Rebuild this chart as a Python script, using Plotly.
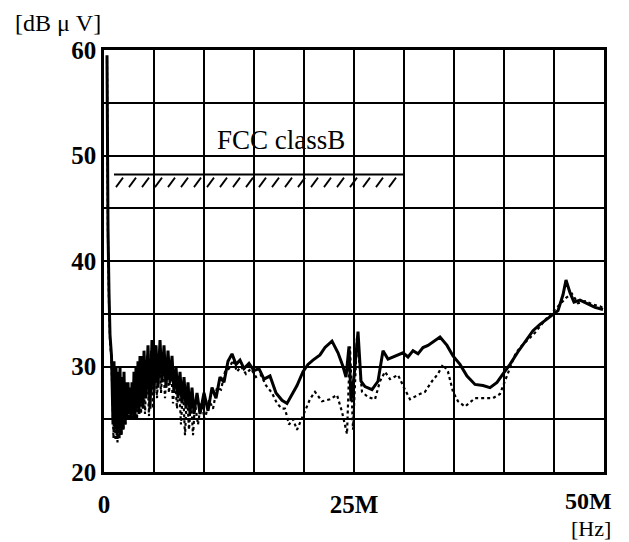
import numpy as np
import plotly.graph_objects as go

# ---- data (frequency in MHz, level in dBuV) ----
solid_freq = [0.3, 0.35, 0.4, 0.5, 0.6, 0.75,
              0.9, 1.0, 1.1, 1.2, 1.3, 1.4, 1.5, 1.6, 1.7, 1.8, 1.9, 2.0, 2.1, 2.2, 2.3, 2.4,
              2.5, 2.6, 2.7, 2.8, 2.9, 3.0, 3.1, 3.2, 3.3, 3.4, 3.5, 3.6, 3.7, 3.8, 3.9, 4.0,
              4.2, 4.4, 4.6, 4.8, 5.0, 5.2, 5.4, 5.6, 5.8, 6.0, 6.2, 6.4, 6.6, 6.8, 7.0, 7.2,
              7.4, 7.6, 7.8, 8.0, 8.2, 8.4, 8.6, 8.8, 9.0, 9.3, 9.6, 10.0, 10.4, 10.8, 11.2,
              11.6, 12.0, 12.4, 12.8, 13.2, 13.6, 14.0, 14.5, 15.0, 15.5, 16.0, 16.6, 17.2,
              17.8, 18.3, 18.8, 19.3, 19.9, 20.4, 20.9, 21.6, 22.1, 22.8, 23.4, 23.9, 24.2,
              24.5, 24.7, 25.0, 25.4, 25.7, 26.1, 26.8, 27.4, 27.9, 28.4, 29.1, 29.9, 30.4,
              30.9, 31.4, 31.9, 32.4, 32.9, 33.6, 34.3, 34.9, 35.6, 36.3, 37.1, 37.9, 38.6,
              39.3, 39.9, 40.6, 41.4, 42.1, 42.9, 43.6, 44.6, 45.4, 45.9, 46.2, 46.6, 47.0,
              47.6, 48.4, 49.1, 49.9]
solid_level = [59.5, 50, 43, 37, 33, 31,
               24.5, 30.5, 24, 30, 23.5, 29.5, 24, 30, 23.5, 29, 24, 29.5, 24.5, 28.5, 25, 28.5,
               25.5, 28, 25, 28.5, 25.5, 29.5, 25, 30, 26, 30.5, 25.5, 31, 26.5, 31, 26, 31.5,
               27, 32, 26, 32.5, 27.5, 32, 28, 32.5, 28.5, 32, 28, 31.5, 28.5, 31, 27.5, 30,
               27, 29.5, 26.5, 29, 26, 28.5, 25.5, 28, 25.5, 27.5, 25.5, 27.5, 25.8, 28, 27,
               29, 28.5, 30.5, 31.2, 30.2, 30.6, 29.8, 30.3, 29.6, 29.8, 28.8, 29.1, 27.5,
               26.8, 26.5, 27.3, 28.2, 29.5, 30.2, 30.6, 31.1, 31.8, 32.4, 31.3, 30, 29,
               31.9, 26.7, 29, 33.3, 28.6, 28.1, 27.8, 28.6, 31.5, 30.7, 31, 31.3, 30.9,
               31.5, 31.2, 31.8, 32.0, 32.3, 32.8, 32.0, 31.0, 30.2, 29.1, 28.3, 28.2, 28.0,
               28.5, 29.3, 30.2, 31.4, 32.3, 33.4, 34.0, 34.7, 35.3, 36.8, 38.2, 37.0, 36.1,
               36.3, 35.9, 35.6, 35.4]

dotted_freq = [0.3, 0.35, 0.4, 0.5, 0.6, 0.75,
               0.95, 1.05, 1.15, 1.25, 1.35, 1.45, 1.55, 1.65, 1.75, 1.85, 1.95, 2.05, 2.15,
               2.3, 2.5, 2.7, 2.9, 3.1, 3.3, 3.5, 3.7, 3.9, 4.1, 4.3, 4.5, 4.7, 4.9, 5.1, 5.3,
               5.5, 5.7, 5.9, 6.1, 6.3, 6.5, 6.7, 6.9, 7.1, 7.3, 7.5, 7.7, 7.9, 8.1, 8.3, 8.5,
               8.7, 8.9, 9.1, 9.4, 9.7, 10.1, 10.5, 10.9, 11.3, 11.7, 12.1, 12.5, 12.9, 13.3,
               13.7, 14.2, 14.7, 15.2, 15.7, 16.2, 16.8, 17.3, 17.8, 18.1, 18.5, 18.9, 19.3,
               19.6, 20.1, 20.6, 21.1, 21.8, 22.6, 23.3, 23.8, 24.1, 24.3, 24.6, 24.9, 25.3,
               25.8, 26.4, 27.1, 27.6, 28.1, 28.6, 29.4, 30.1, 30.6, 31.4, 32.1, 32.8, 33.4,
               33.9, 34.4, 34.9, 35.4, 36.1, 37.1, 38.1, 38.9, 39.6, 40.1, 40.6, 41.1, 41.6,
               42.4, 43.1, 44.1, 44.9, 45.6, 46.2, 46.8, 47.4, 48.1, 48.8, 49.6, 50.0]
dotted_level = [59, 49, 42, 36, 32.5, 30.5,
                23.2, 29, 23, 28.5, 22.8, 28, 23.2, 29, 23.5, 28, 24, 28, 24.5,
                27.5, 25, 27.5, 25, 28.5, 25, 29.5, 25.5, 30.5, 25.5, 31, 25.3, 31.5, 26, 32, 27,
                31.5, 27.5, 31, 27, 30.5, 27.5, 30, 26.5, 29, 26, 28.5, 24.5, 28, 23.5, 27.5, 24,
                27, 23.5, 26.5, 24.5, 26.5, 25, 26.8, 26, 28, 27.8, 29.5, 29.8, 30.6, 29.5,
                30, 29.3, 29.8, 29, 29.2, 28.2, 27.5, 26.5, 26.0, 26, 24.5, 25, 24,
                24.7, 25.7, 26.9, 27.6, 26.7, 26.9, 27.3, 25.7, 24.4, 23.6, 31.9, 24, 32.7,
                27.6, 27.1, 26.9, 28.6, 29.5, 28.8, 29.2, 27.8, 26.9, 27.3, 27.6, 28.6, 29.3,
                30.2, 29.5, 27.6, 26.7, 26.2, 27, 27, 27, 27.4, 28.6, 29.9, 31.1, 31.8,
                32.6, 33.2, 34.4, 35.2, 35.8, 36.5, 36.9, 36.0, 36.2, 35.9, 35.7, 35.5]

limit_freq = [1.0, 30.0]
limit_level = [48.2, 48.2]
limit_label = "FCC classB"

y_ticks = [20, 25, 30, 35, 40, 45, 50, 55, 60]
y_ticktext = ["20", "", "30", "", "40", "", "50", "", "60"]
x_ticks = [0, 5, 10, 15, 20, 25, 30, 35, 40, 45, 50]
x_ticktext = ["0", "", "", "", "", "25M", "", "", "", "", ""]

# ---- hatch strokes below the limit line (derived from limit arrays) ----
hatch_step = 1.3
hx, hy = [], []
f = limit_freq[0] + 0.2
while f + 0.7 <= limit_freq[1]:
    hx += [f, f + 0.7, None]
    hy += [limit_level[0] - 1.2, limit_level[0] - 0.3, None]
    f += hatch_step

SERIF = "Liberation Serif"
fig = go.Figure()
fig.add_trace(go.Scatter(x=dotted_freq, y=dotted_level, mode="lines",
                         line=dict(color="black", width=2.2, dash="dot"), showlegend=False))
fig.add_trace(go.Scatter(x=solid_freq, y=solid_level, mode="lines",
                         line=dict(color="black", width=3), showlegend=False))
fig.add_trace(go.Scatter(x=limit_freq, y=limit_level, mode="lines",
                         line=dict(color="black", width=2), showlegend=False))
fig.add_trace(go.Scatter(x=hx, y=hy, mode="lines",
                         line=dict(color="black", width=1.8), showlegend=False))

fig.add_annotation(x=(limit_freq[0] + limit_freq[1]) / 2 + 2.2, y=limit_level[0] + 3.3,
                   text=limit_label, showarrow=False,
                   font=dict(family=SERIF, size=27, color="black"))
fig.add_annotation(xref="paper", yref="paper", x=-0.002, y=1.0, yshift=27,
                   xanchor="right", yanchor="middle", text="[dB μ V]", showarrow=False,
                   font=dict(family=SERIF, size=24, color="black"))
fig.add_annotation(xref="x", yref="paper", x=50, y=0, xanchor="right", yanchor="top",
                   xshift=10, yshift=-14, text="<b>50M</b>", showarrow=False,
                   font=dict(family=SERIF, size=24, color="black"))
fig.add_annotation(xref="x", yref="paper", x=50, y=0, xanchor="right", yanchor="top",
                   xshift=9, yshift=-42, text="[Hz]", showarrow=False,
                   font=dict(family=SERIF, size=22, color="black"))

axis_common = dict(showline=True, linecolor="black", linewidth=2.5, mirror=True,
                   showgrid=True, gridcolor="black", gridwidth=1.8, zeroline=False,
                   ticks="", tickfont=dict(family=SERIF, size=25, color="black", weight="bold"))
fig.update_xaxes(range=[0, 50], tickmode="array", tickvals=x_ticks, ticktext=x_ticktext,
                 ticklabelstandoff=8, **axis_common)
fig.update_yaxes(range=[20, 60], tickmode="array", tickvals=y_ticks, ticktext=y_ticktext,
                 ticklabelstandoff=0, **axis_common)

fig.update_layout(width=629, height=542, margin=dict(l=104, r=25, t=50, b=70),
                  paper_bgcolor="white", plot_bgcolor="white", showlegend=False)
fig.write_html("out.html")
